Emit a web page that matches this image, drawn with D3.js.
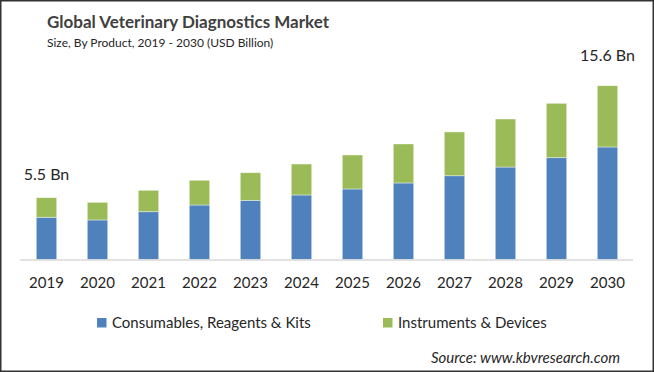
<!DOCTYPE html>
<html>
<head>
    <title>Global Veterinary Diagnostics Market</title>
    <style>
        body {
            margin: 0;
            padding: 0;
            background: #ffffff;
        }
        svg {
            display: block;
            font-family: Lato, "Open Sans", sans-serif;
        }
    </style>
</head>
<body>
    <svg id="chart" width="654" height="372"></svg>

    <script src="https://d3js.org/d3.v7.min.js"></script>
    <script>
        // Values (USD Billion)
        const years = ['2019', '2020', '2021', '2022', '2023', '2024', '2025', '2026', '2027', '2028', '2029', '2030'];
        const consumables = [3.79, 3.55, 4.29, 4.89, 5.31, 5.79, 6.33, 6.87, 7.52, 8.30, 9.14, 10.10];
        const instruments = [1.76, 1.58, 1.92, 2.22, 2.48, 2.78, 3.05, 3.50, 3.93, 4.31, 4.88, 5.50];
        const seriesNames = ['Consumables, Reagents & Kits', 'Instruments & Devices'];
        const seriesColors = ['#4f81bd', '#9bbb59'];
        const endLabels = ['5.5 Bn', '15.6 Bn'];

        const svg = d3.select('#chart');
        const W = 654, H = 372;

        // outer frame
        svg.append('rect')
            .attr('x', 0.75).attr('y', 0.75)
            .attr('width', W - 1.5).attr('height', H - 1.5)
            .attr('fill', '#fff')
            .attr('stroke', '#333333')
            .attr('stroke-width', 1.5);

        // titles
        svg.append('text')
            .attr('x', 47).attr('y', 28)
            .attr('font-size', 17).attr('font-weight', 'bold')
            .attr('fill', '#404040')
            .text('Global Veterinary Diagnostics Market');

        svg.append('text')
            .attr('x', 47).attr('y', 47)
            .attr('font-size', 12)
            .attr('fill', '#262626')
            .text('Size, By Product, 2019 - 2030  (USD Billion)');

        const x = d3.scaleBand()
            .domain(years)
            .range([21, 633])
            .paddingInner(0.6)
            .paddingOuter(0.3);

        const y = d3.scaleLinear()
            .domain([0, 16])
            .range([259.5, 259.5 - 16 * 11.14]);

        const rows = years.map((yr, i) => ({ year: yr, c: consumables[i], d: instruments[i] }));
        const stacked = d3.stack().keys(['c', 'd'])(rows);

        svg.append('g')
            .selectAll('g')
            .data(stacked)
            .join('g')
            .attr('fill', (d, i) => seriesColors[i])
            .selectAll('rect')
            .data(d => d)
            .join('rect')
            .attr('x', d => x(d.data.year))
            .attr('y', d => y(d[1]))
            .attr('width', x.bandwidth())
            .attr('height', d => y(d[0]) - y(d[1]))
            .attr('stroke', '#ffffff')
            .attr('stroke-opacity', 0.5)
            .attr('stroke-width', 0.8);

        // baseline
        svg.append('line')
            .attr('x1', 20).attr('x2', 633)
            .attr('y1', 260).attr('y2', 260)
            .attr('stroke', '#d9d9d9')
            .attr('stroke-width', 1.5);

        // x axis labels
        const xAxis = d3.axisBottom(x).tickSize(0).tickPadding(0);
        const gx = svg.append('g')
            .attr('transform', 'translate(0,260)')
            .call(xAxis);
        gx.select('.domain').remove();
        gx.selectAll('text')
            .attr('y', 28)
            .attr('dy', 0)
            .attr('font-size', 15)
            .attr('font-family', 'Lato, "Open Sans", sans-serif')
            .attr('fill', '#262626');

        // first / last total labels
        const first = 0, last = years.length - 1;
        svg.append('text')
            .attr('x', x(years[first]) + x.bandwidth() / 2)
            .attr('y', y(consumables[first] + instruments[first]) - 18)
            .attr('text-anchor', 'middle')
            .attr('font-size', 16)
            .attr('fill', '#262626')
            .text(endLabels[0]);
        svg.append('text')
            .attr('x', x(years[last]) + x.bandwidth() / 2)
            .attr('y', y(consumables[last] + instruments[last]) - 25)
            .attr('text-anchor', 'middle')
            .attr('font-size', 16)
            .attr('fill', '#262626')
            .text(endLabels[1]);

        // legend
        const legendX = [97, 383];
        const legend = svg.append('g')
            .selectAll('g')
            .data(seriesNames)
            .join('g')
            .attr('transform', (d, i) => `translate(${legendX[i]},318)`);
        legend.append('rect')
            .attr('width', 9.5).attr('height', 9.5)
            .attr('fill', (d, i) => seriesColors[i]);
        legend.append('text')
            .attr('x', 15).attr('y', 9.5)
            .attr('font-size', 15)
            .attr('fill', '#262626')
            .text(d => d);

        // source
        svg.append('text')
            .attr('x', 620).attr('y', 363)
            .attr('text-anchor', 'end')
            .attr('font-size', 15)
            .attr('font-style', 'italic')
            .attr('fill', '#262626')
            .text('Source: www.kbvresearch.com');
    </script>
</body>
</html>
